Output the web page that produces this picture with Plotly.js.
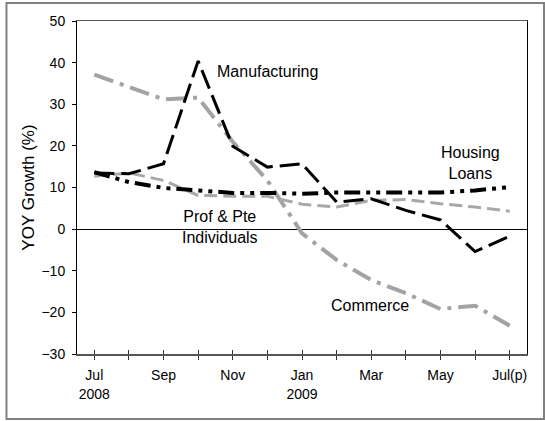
<!DOCTYPE html>
<html>
<head>
<meta charset="utf-8">
<script src="https://cdn.plot.ly/plotly-3.0.1.min.js"></script>
<style>
  html, body { margin: 0; padding: 0; background: #fff; }
  #chart { width: 545px; height: 421px; }
</style>
</head>
<body>
<div id="chart"></div>
<script>
// Months Jul 2008 .. Jul 2009 (13 monthly points)
const months = ["Jul 2008","Aug 2008","Sep 2008","Oct 2008","Nov 2008","Dec 2008",
                "Jan 2009","Feb 2009","Mar 2009","Apr 2009","May 2009","Jun 2009","Jul 2009 (p)"];
const tickLabels = ["Jul<br>2008","","Sep","","Nov","","Jan<br>2009","","Mar","","May","","Jul(p)"];

const manufacturing = [13.5, 13.3, 15.7, 40.4, 19.9, 14.9, 15.7, 6.5, 7.3, 4.5, 2.2, -5.4, -1.7];
const commerce      = [37.1, 34.2, 31.2, 31.6, 21.0, 11.7, -1.0, -7.4, -12.2, -15.4, -19.2, -18.4, -23.2];
const housingLoans  = [13.7, 11.3, 9.9, 9.2, 8.7, 8.7, 8.5, 8.8, 8.9, 8.8, 8.8, 9.3, 10.1];
const profPte       = [12.7, 13.5, 11.7, 8.1, 7.9, 7.9, 6.0, 5.3, 6.9, 7.1, 6.1, 5.3, 4.3];

const idx = months.map((m, i) => i);

const traces = [
  { x: idx, y: commerce, name: "Commerce", type: "scatter", mode: "lines",
    line: { color: "#a3a3a3", width: 4, dash: "20px,7px,4px,7px" } },
  { x: idx, y: profPte, name: "Prof & Pte Individuals", type: "scatter", mode: "lines",
    line: { color: "#a8a8a8", width: 3, dash: "13px,6px" } },
  { x: idx, y: housingLoans, name: "Housing Loans", type: "scatter", mode: "lines",
    line: { color: "#000000", width: 4, dash: "16px,6px,4px,6px,4px,6px" } },
  { x: idx, y: manufacturing, name: "Manufacturing", type: "scatter", mode: "lines",
    line: { color: "#000000", width: 3, dash: "20px,7px" } },
  { x: [], y: [], xaxis: "x2", type: "scatter", mode: "lines", showlegend: false, hoverinfo: "skip" }
];

const font = "Liberation Sans, Arial, sans-serif";

const layout = {
  width: 545, height: 421,
  margin: { l: 77, r: 18, t: 21, b: 67 },
  paper_bgcolor: "#ffffff", plot_bgcolor: "#ffffff",
  showlegend: false,
  font: { family: font, color: "#000", size: 14 },
  xaxis: {
    range: [-0.5, 12.5], tickmode: "array", tickvals: idx, ticktext: tickLabels,
    ticks: "outside", ticklen: 4, tickcolor: "#333", tickwidth: 1,
    showline: true, linecolor: "#555", linewidth: 1.5, mirror: true,
    showgrid: false, zeroline: false, tickfont: { size: 14 }, ticklabelstandoff: 4
  },
  xaxis2: {
    range: [-0.5, 12.5], overlaying: "x", anchor: "y", tickmode: "array", tickvals: idx,
    ticks: "inside", ticklen: 4, tickcolor: "#333", tickwidth: 1,
    showticklabels: false, showline: false, showgrid: false, zeroline: false
  },
  yaxis: {
    range: [-30, 50], tickvals: [-30,-20,-10,0,10,20,30,40,50],
    ticks: "outside", ticklen: 4, tickcolor: "#000",
    showline: true, linecolor: "#000", linewidth: 1, mirror: true,
    showgrid: false, zeroline: true, zerolinecolor: "#000", zerolinewidth: 1,
    tickfont: { size: 14 }, ticklabelstandoff: 4,
    title: { text: "YOY Growth (%)", font: { size: 17 }, standoff: 2 }
  },
  annotations: [
    { x: 3.49, y: 37.8, xref: "x", yref: "y", text: "Manufacturing", showarrow: false,
      xanchor: "left", yanchor: "middle", font: { size: 16 } },
    { x: 10.87, y: 15.9, xref: "x", yref: "y", text: "Housing<br>Loans", showarrow: false,
      xanchor: "center", yanchor: "middle", font: { size: 16 } },
    { x: 3.63, y: 0.6, xref: "x", yref: "y", text: "Prof & Pte<br>Individuals", showarrow: false,
      xanchor: "center", yanchor: "middle", font: { size: 16 } },
    { x: 7.96, y: -18.3, xref: "x", yref: "y", text: "Commerce", showarrow: false,
      xanchor: "center", yanchor: "middle", font: { size: 16 } }
  ],
  shapes: [
    { type: "rect", xref: "paper", yref: "paper",
      x0: -0.1567, x1: 1.0378, y0: -0.195, y1: 1.054,
      line: { color: "#808080", width: 2 }, fillcolor: "rgba(0,0,0,0)" }
  ]
};

Plotly.newPlot("chart", traces, layout, { staticPlot: true, displayModeBar: false });
</script>
</body>
</html>
